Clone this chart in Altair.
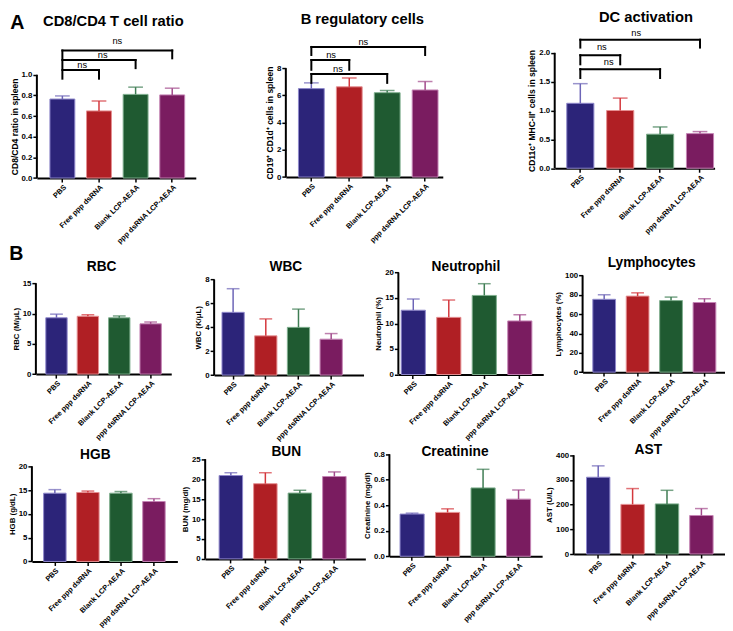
import altair as alt
import pandas as pd

groups = ["PBS", "Free ppp dsRNA", "Blank LCP-AEAA", "ppp dsRNA LCP-AEAA"]
fill_colors = ["#2c2479", "#b01f24", "#1f5a31", "#7a1c60"]
edge_colors = ["#8f88cc", "#e58f91", "#7fae8e", "#c584b4"]
err_colors = ["#6d65b7", "#d4383d", "#3f7d54", "#a24a8c"]

cd8_mean = [0.765, 0.65, 0.81, 0.805]
cd8_top = [0.795, 0.745, 0.88, 0.87]
breg_mean = [6.5, 6.63, 6.2, 6.4]
breg_top = [6.92, 7.28, 6.36, 7.02]
dc_mean = [1.125, 1.0, 0.59, 0.6]
dc_top = [1.465, 1.215, 0.715, 0.635]
rbc_mean = [9.3, 9.55, 9.3, 8.3]
rbc_top = [9.9, 9.8, 9.6, 8.6]
wbc_mean = [5.26, 3.29, 4.0, 3.01]
wbc_top = [7.24, 4.71, 5.53, 3.48]
neu_mean = [12.6, 11.2, 15.5, 10.5]
neu_top = [14.8, 14.6, 17.8, 11.7]
lym_mean = [75.3, 78.6, 74.0, 72.0]
lym_top = [80.0, 82.0, 77.6, 76.0]
hgb_mean = [14.35, 14.5, 14.35, 12.6]
hgb_top = [15.1, 14.8, 14.7, 13.2]
bun_mean = [20.9, 18.85, 16.5, 20.65]
bun_top = [21.6, 21.6, 17.2, 21.8]
cre_mean = [0.331, 0.344, 0.536, 0.448]
cre_top = [0.338, 0.372, 0.682, 0.52]
ast_mean = [311, 201, 203, 156]
ast_top = [357, 265, 258, 184]

# significance brackets vs PBS: (group, bracket level, leg end, label level, label position in steps from PBS)
cd8_ns = [("ppp dsRNA LCP-AEAA", 1.235, 1.159, 1.33, 1.5),
          ("Blank LCP-AEAA", 1.142, 1.064, 1.187, 1.1),
          ("Free ppp dsRNA", 1.045, 0.962, 1.092, 0.54)]
breg_ns = [("ppp dsRNA LCP-AEAA", 9.56, 8.97, 9.95, 1.37),
           ("Free ppp dsRNA", 8.6, 7.88, 9.0, 0.52),
           ("Blank LCP-AEAA", 7.57, 6.92, 7.95, 0.7)]
dc_ns = [("ppp dsRNA LCP-AEAA", 2.226, 2.09, 2.345, 1.4),
         ("Free ppp dsRNA", 1.959, 1.80, 2.107, 0.54),
         ("Blank LCP-AEAA", 1.716, 1.563, 1.835, 0.71)]

S = 0.985
FONT = "Liberation Sans"
PI = 0.32


def panel(title, ytitle, means, tops, ticks, fmt, span, w, h, po, align, cap,
          tsize, tbase, tdx, ns=None, ylab=8, ytit=8, letter=None):
    df = pd.DataFrame({"group": groups, "mean": means, "top": tops})
    dmax = ticks[-1] * h / span
    step = w * S / (len(groups) - PI + 2 * po)
    xs = alt.Scale(domain=groups, paddingInner=PI, paddingOuter=po, align=align)
    ys = alt.Scale(domain=[0, dmax], nice=False, zero=False)
    xax = alt.Axis(labelAngle=-45, labelFontSize=7.5 * S, labelFont=FONT, labelFontWeight="bold",
                   labelColor="black", domainColor="black", domainWidth=2, tickColor="black",
                   tickWidth=1.5, tickSize=4, labelPadding=1, labelOverlap=False, labelLimit=300)
    yax = alt.Axis(values=ticks, format=fmt, domain=False, grid=False, labelFontSize=ylab * S,
                   titleFontSize=ytit * S, labelFont=FONT, titleFont=FONT, labelFontWeight="bold",
                   titleFontWeight="bold", labelColor="black", titleColor="black", tickColor="black",
                   tickWidth=1.5, tickSize=4, labelPadding=1, titlePadding=2, labelOverlap=False,
                   titleY=(h - span / 2) * S)

    def X(f):
        return alt.X(f, scale=xs, axis=xax, title=None)

    def Y(f):
        return alt.Y(f, scale=ys, axis=yax, title=ytitle)

    base = alt.Chart(df)
    bars = base.mark_bar(strokeWidth=1).encode(
        x=X("group:N"), y=Y("mean:Q"),
        fill=alt.Fill("group:N", scale=alt.Scale(domain=groups, range=fill_colors), legend=None),
        stroke=alt.Stroke("group:N", scale=alt.Scale(domain=groups, range=edge_colors), legend=None),
    )
    ecol = alt.Color("group:N", scale=alt.Scale(domain=groups, range=err_colors), legend=None)
    err = base.mark_rule(strokeWidth=1.5).encode(x=X("group:N"), y=Y("mean:Q"), y2="top:Q", color=ecol)
    caps = base.mark_tick(orient="horizontal", size=cap * S, thickness=1.5).encode(
        x=X("group:N"), y=Y("top:Q"), color=ecol)
    yline = alt.Chart(pd.DataFrame({"lo": [0], "hi": [ticks[-1]]})).mark_rule(
        color="black", strokeWidth=2).encode(x=alt.value(0), y=Y("lo:Q"), y2="hi:Q")
    layers = [bars, err, caps, yline]

    if ns:
        bd = pd.DataFrame(ns, columns=["right", "line", "leg", "label_y", "label_pos"])
        bd["left"] = "PBS"
        bd["label"] = "ns"
        bb = alt.Chart(bd)
        rk = dict(color="black", strokeWidth=2, strokeCap="square")
        layers.append(bb.mark_rule(**rk).encode(x=X("left:N"), x2="right:N", y=Y("line:Q")))
        layers.append(bb.mark_rule(**rk).encode(x=X("left:N"), y=Y("line:Q"), y2="leg:Q"))
        layers.append(bb.mark_rule(**rk).encode(x=X("right:N"), y=Y("line:Q"), y2="leg:Q"))
        for i in range(len(bd)):
            layers.append(alt.Chart(bd.iloc[[i]]).mark_text(
                fontSize=9.5 * S, font=FONT, color="black", baseline="middle", align="center",
                dx=float(bd["label_pos"].iloc[i]) * step,
            ).encode(x=X("left:N"), y=Y("label_y:Q"), text="label:N"))

    # panel title
    layers.append(alt.Chart(pd.DataFrame({"t": [title]})).mark_text(
        fontSize=tsize * S, fontWeight="bold", font=FONT, color="black", align="center",
        baseline="alphabetic").encode(x=alt.value((w / 2 + tdx) * S), y=alt.value(tbase * S), text="t:N"))

    if letter:
        txt, lx, ly = letter
        layers.append(alt.Chart(pd.DataFrame({"t": [txt]})).mark_text(
            fontSize=20 * S, fontWeight="bold", font=FONT, color="black", align="center",
            baseline="middle").encode(x=alt.value(lx * S), y=alt.value(ly * S), text="t:N"))

    return alt.layer(*layers).properties(width=w * S, height=h * S)


def spacer(w):
    return alt.Chart(pd.DataFrame({"v": [0]})).mark_point(opacity=0, size=0).encode(
        x=alt.X("v:Q", axis=None), y=alt.Y("v:Q", axis=None)
    ).properties(width=w * S, height=1)


def row(cells):
    return alt.hconcat(*cells, spacing=0, bounds="flush")


r1 = [0, 0.2, 0.4, 0.6, 0.8, 1.0]
A1 = panel("CD8/CD4 T cell ratio", "CD8/CD4 ratio in spleen", cd8_mean, cd8_top, r1, ".1f",
           105.3, 162, 170, 0.33, 0.54, 15, 15, 14.7, -3, cd8_ns, 8, 8.7, ("A", -20, 12))
A2 = panel("B regulatory cells", "CD19\u207a CD1d\u207a cells in spleen", breg_mean, breg_top,
           [0, 2, 4, 6, 8], "d", 111, 160, 169, 0.229, 0.726, 15, 15, 13, -2, breg_ns, 8, 8.7)
A3 = panel("DC activation", "CD11c\u207a MHC-II\u207a cells in spleen", dc_mean, dc_top,
           [0, 0.5, 1.0, 1.5, 2.0], ".1f", 117.7, 163, 160, 0.164, 0.92, 15, 15, 11, 11.5, dc_ns, 8, 8.7)
RBC = panel("RBC", "RBC (M/\u03bcL)", rbc_mean, rbc_top, [0, 5, 10, 15], "d",
            92.6, 138, 131.3, 0.316, 0.5, 13, 14, 26, -2, letter=("B", -20, 9))
WBC = panel("WBC", "WBC (K/\u03bcL)", wbc_mean, wbc_top, [0, 2, 4, 6, 8], "d",
            97.3, 152.3, 132.3, 0.445, 0.27, 13, 14, 26, -3)
NEU = panel("Neutrophil", "Neutrophil (%)", neu_mean, neu_top, [0, 5, 10, 15, 20], "d",
            104, 147.7, 131.7, 0.2, 0.2, 13, 14, 26, -5)
LYM = panel("Lymphocytes", "Lymphocytes (%)", lym_mean, lym_top, [0, 20, 40, 60, 80, 100], "d",
            98.6, 144.7, 129.3, 0.283, 0.54, 13, 14, 22, -2)
HGB = panel("HGB", "HGB (g/dL)", hgb_mean, hgb_top, [0, 5, 10, 15, 20], "d",
            97, 148.3, 121.3, 0.362, 0.49, 13, 14, 17, -9.5)
BUN = panel("BUN", "BUN (mg/dl)", bun_mean, bun_top, [0, 5, 10, 15, 20, 25], "d",
            101.7, 163.3, 118.7, 0.481, 0.42, 13, 14, 14, 1)
CRE = panel("Creatinine", "Creatinine (mg/dl)", cre_mean, cre_top, [0, 0.2, 0.4, 0.6, 0.8], ".1f",
            104, 155.7, 116, 0.312, 0.48, 13, 14, 14, -11)
AST = panel("AST", "AST (U/L)", ast_mean, ast_top, [0, 100, 200, 300, 400], "d",
            100.7, 154.3, 113.7, 0.36, 0.52, 13, 14, 12, -1)

rowA = row([spacer(4.3), A1, spacer(91), A2, spacer(113), A3])
rowB1 = row([spacer(3.3), RBC, spacer(42.7), WBC, spacer(34), NEU, spacer(39), LYM])
rowB2 = row([HGB, spacer(26.7), BUN, spacer(24), CRE, spacer(30.7), AST])

chart = alt.vconcat(
    rowA, alt.vconcat(rowB1, rowB2, spacing=-4.5), spacing=-12.6,
).properties(padding={"left": 0, "top": 0, "right": 0, "bottom": 0}).configure_view(stroke=None)

chart.save("out.html", embed_options={"renderer": "svg", "actions": False})
